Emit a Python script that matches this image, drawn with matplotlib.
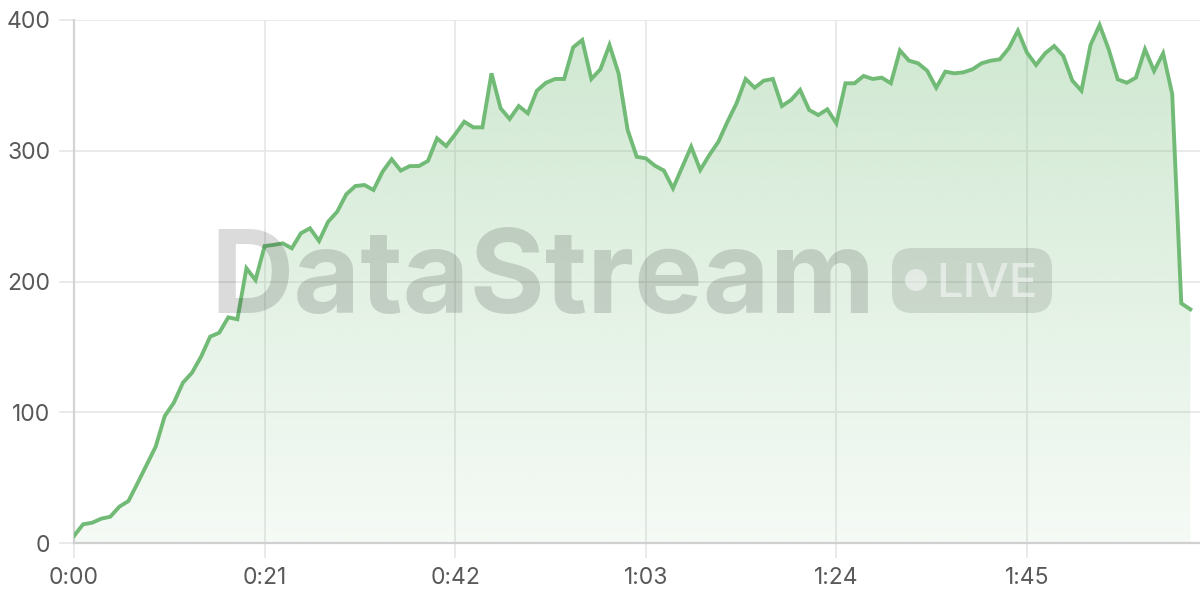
import numpy as np
import matplotlib
matplotlib.use("Agg")
import matplotlib.pyplot as plt
from matplotlib.patches import FancyBboxPatch, Circle, Polygon

# samples, one per second
seconds = list(range(124))
values = [
    5.4, 14.3, 15.5, 18.6, 20.1, 27.8, 32.1, 45.7, 59.7, 73.7,
    97.1, 107.3, 122.6, 130.2, 142.5, 157.8, 160.8, 172.6, 171.1, 210.1,
    201.1, 227.1, 228.0, 229.2, 225.4, 236.9, 240.7, 231.0, 245.7, 253.4,
    266.7, 273.0, 273.8, 270.0, 284.0, 293.5, 284.8, 288.3, 288.3, 292.2,
    309.5, 303.6, 312.6, 322.2, 317.9, 317.9, 359.2, 332.5, 324.3, 334.2,
    328.6, 345.9, 352.0, 354.9, 354.9, 379.1, 384.7, 354.9, 362.3, 380.9,
    359.2, 315.9, 295.4, 294.2, 288.6, 284.8, 271.3, 287.3, 303.1, 285.3,
    296.7, 306.9, 322.2, 336.3, 354.9, 348.2, 353.6, 354.9, 334.2, 338.8,
    346.5, 331.2, 327.3, 331.7, 321.0, 351.6, 351.6, 357.2, 354.9, 355.9,
    351.6, 376.7, 368.9, 366.9, 361.2, 348.2, 360.5, 359.2, 360.0, 362.3,
    366.9, 368.9, 369.9, 378.4, 391.8, 375.0, 365.6, 374.5, 380.1, 372.5,
    353.6, 345.9, 380.9, 396.2, 377.6, 354.6, 352.0, 355.9, 377.6, 361.0,
    374.5, 343.4, 183.3, 178.7,
]
x_ticks = [0, 21, 42, 63, 84, 105]
x_tick_labels = ["0:00", "0:21", "0:42", "1:03", "1:24", "1:45"]
y_ticks = [0, 100, 200, 300, 400]

GREEN = "#72bb77"
plt.rcParams["font.family"] = ["Inter", "DejaVu Sans"]

fig = plt.figure(figsize=(12, 6), dpi=100)
ax = fig.add_axes([74 / 1200, 57 / 600, 1126 / 1200, 523 / 600])
ax.set_xlim(0, 1126 / 9.076)
ax.set_ylim(0, 400)

# gradient fill under the line, clipped to the area polygon
xs = np.array(seconds, dtype=float)
ys = np.array(values, dtype=float)
grad = np.linspace(0.07, 0.34, 256).reshape(-1, 1)
rgba = np.zeros((256, 1, 4))
rgba[..., :3] = matplotlib.colors.to_rgb(GREEN)
rgba[..., 3] = grad[:, :1]
img = ax.imshow(rgba, extent=[xs[0], xs[-1], 0, 400], origin="lower",
                aspect="auto", zorder=1, interpolation="bilinear")
verts = np.vstack([[xs[0], 0], np.column_stack([xs, ys]), [xs[-1], 0]])
poly = Polygon(verts, closed=True, facecolor="none", edgecolor="none")
ax.add_patch(poly)
img.set_clip_path(poly)

ax.plot(xs, ys, color=GREEN, lw=2.8, zorder=3, solid_joinstyle="miter")

# grid and axes
ax.set_xticks(x_ticks)
ax.set_xticklabels(x_tick_labels)
ax.set_yticks(y_ticks)
ax.grid(True, color="#e6e6e6", lw=1.2, zorder=0)
ax.set_axisbelow(True)
for side in ["top", "right"]:
    ax.spines[side].set_visible(False)
ax.spines["left"].set_color("#d4d4d4")
ax.spines["left"].set_linewidth(1.6)
ax.spines["bottom"].set_color("#d0d0d0")
ax.spines["bottom"].set_linewidth(1.6)
ax.tick_params(axis="x", length=11, width=1.2, color="#e6e6e6", pad=6,
               labelsize=16.5, labelcolor="#595959")
ax.tick_params(axis="y", length=11, width=1.2, color="#e6e6e6", pad=6,
               labelsize=16.5, labelcolor="#595959")

# watermark
fig.text(2.10, 2.87, "DataStream", transform=fig.dpi_scale_trans,
         fontsize=83, fontweight="bold", color="black", alpha=0.14,
         ha="left", va="baseline", zorder=5)
badge = FancyBboxPatch((8.92, 2.87), 1.60, 0.65,
                       boxstyle="round,pad=0,rounding_size=0.2",
                       transform=fig.dpi_scale_trans, facecolor="black",
                       edgecolor="none", alpha=0.11, zorder=5)
fig.patches.append(badge)
fig.patches.append(Circle((9.16, 3.20), 0.11, transform=fig.dpi_scale_trans,
                          facecolor="white", edgecolor="none", alpha=0.5, zorder=6))
fig.text(9.36, 3.03, "LIVE", transform=fig.dpi_scale_trans, fontsize=34,
         fontweight="medium", color="white", alpha=0.5,
         ha="left", va="baseline", zorder=6)

fig.savefig("out.png", dpi=100, facecolor="white")
